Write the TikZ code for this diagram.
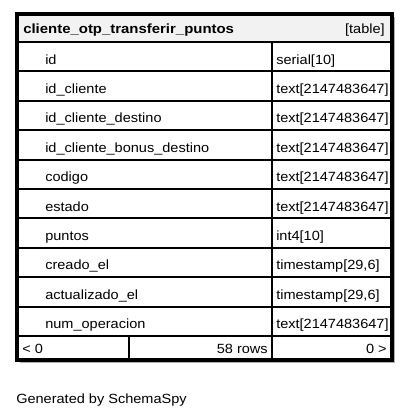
\documentclass[tikz,border=0pt]{standalone}
\usepackage{fontspec}
\setmainfont{Liberation Sans}[FakeStretch=1.09]
\newfontfamily\titlefont{Liberation Sans}[FakeStretch=1.12]
\begin{document}
\begin{tikzpicture}[x=0.75pt,y=-0.75pt,
  font=\fontsize{10}{12}\selectfont,
  lbl/.style={inner sep=0pt, anchor=base west},
  lblr/.style={inner sep=0pt, anchor=base east},
  grid/.style={draw=black, line width=1.5pt},
  frame/.style={draw=black, line width=2.4pt}]
\useasboundingbox (0,0) rectangle (409,418);
\fill[white] (0,0) rectangle (409,418);
% shadow
\fill[gray!60] (20,17) rectangle (395,363);
\fill[white] (17,14) rectangle (392,360);
% header fill
\fill[gray!10] (17,14) rectangle (392,42);
% row lines
\foreach \i in {0,...,10} {
  \draw[grid] (17,{42+29.4*\i}) -- (392,{42+29.4*\i});
}
\draw[grid] (272,42) -- (272,360);
\draw[grid] (129,336) -- (129,360);
\draw[frame] (17,14) rectangle (392,360);
% header
\node[lbl, font=\titlefont\fontsize{10}{12}\selectfont\bfseries] (title) at (23,33) {cliente\_otp\_transferir\_puntos};
\node[lblr] (kind) at (385,33) {[table]};
% rows
\foreach \n/\t [count=\k from 0] in {id/serial[10], id\_cliente/text[2147483647], id\_cliente\_destino/text[2147483647], id\_cliente\_bonus\_destino/text[2147483647], codigo/text[2147483647], estado/text[2147483647], puntos/int4[10], creado\_el/timestamp[29{,}6], actualizado\_el/timestamp[29{,}6], num\_operacion/text[2147483647]} {
  \node[lbl] (col\k) at (45,{42+29.4*\k+22}) {\n};
  \node[lbl] (typ\k) at (276,{42+29.4*\k+22}) {\t};
}
% footer
\node[lbl] (prev) at (22,353) {< 0};
\node[lblr] (rows) at (268,353) {58 rows};
\node[lblr] (next) at (387,353) {0 >};
\node[lbl] (gen) at (16,403) {Generated by SchemaSpy};
\end{tikzpicture}
\end{document}
